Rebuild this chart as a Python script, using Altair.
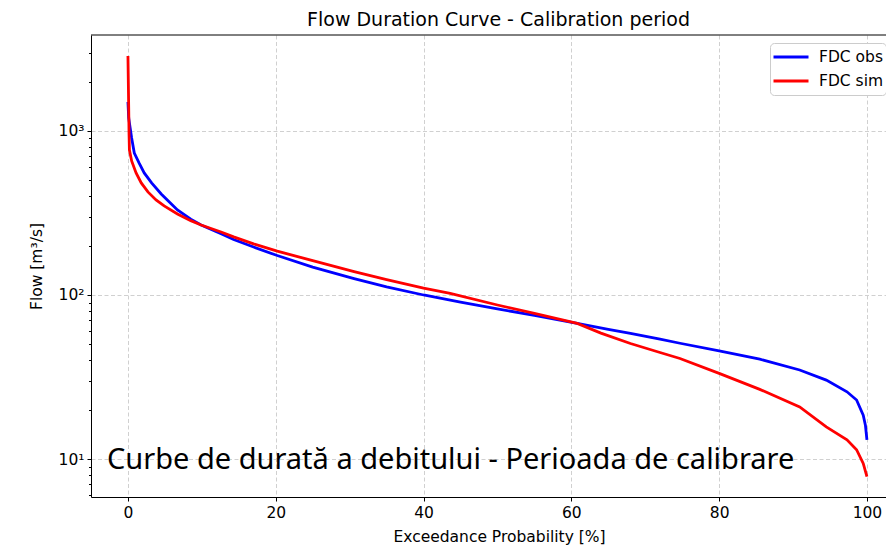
import altair as alt
import pandas as pd

# ---- data ----
obs_p = [0, 0.1, 0.3, 0.5, 0.86, 1.5, 2.2, 3.2, 4.5, 5.6, 6.7, 8.5, 9.9, 12.6, 14.3, 17.0,
         20.2, 25.0, 30.6, 35.0, 40.0, 45.0, 50.0, 55.0, 60.8, 65.0, 68.0, 72.0, 74.7, 80.0,
         85.5, 90.9, 94.5, 97.3, 98.6, 99.5, 99.8, 100]
obs_q = [1502, 1200, 1043, 906, 734, 638, 555, 482, 413, 369, 330, 290, 267, 236, 218, 196,
         174, 148, 126, 112, 100, 90.4, 82.3, 75.0, 67.1, 61.8, 58.3, 53.8, 50.8, 45.6,
         40.6, 34.9, 30.3, 25.7, 22.9, 18.5, 16.0, 13.1]

sim_p = [0, 0.1, 0.15, 0.2, 0.5, 1.1, 1.8, 2.7, 3.8, 4.9, 6.7, 8.5, 9.9, 12.6, 14.3, 17.0,
         20.2, 25.0, 30.6, 35.0, 40.0, 43.6, 50.0, 55.0, 60.8, 64.0, 68.0, 72.0, 74.7, 80.0,
         85.5, 90.9, 94.5, 97.3, 98.6, 99.5, 100]
sim_q = [2865, 1400, 950, 765, 656, 555, 482, 425, 380, 349, 312, 284, 267, 242, 226, 205,
         185, 162, 139, 124, 110, 102.4, 86.9, 77.2, 67.1, 58.6, 50.6, 44.6, 41.0, 33.3,
         26.6, 20.8, 15.7, 13.1, 11.4, 9.4, 7.8]

series_names = ["FDC obs", "FDC sim"]
series_colors = ["#0000ff", "#ff0000"]

x_ticks = [0, 20, 40, 60, 80, 100]
y_major = [10, 100, 1000]
y_minor = [6, 7, 8, 9, 20, 30, 40, 50, 60, 70, 80, 90,
           200, 300, 400, 500, 600, 700, 800, 900, 2000, 3000]

title_text = "Flow Duration Curve - Calibration period"
x_title = "Exceedance Probability [%]"
y_title = "Flow [m³/s]"
overlay_text = "Curbe de durată a debitului - Perioada de calibrare"

# ---- table ----
df = pd.concat([
    pd.DataFrame({"p": obs_p, "q": obs_q, "series": series_names[0]}),
    pd.DataFrame({"p": sim_p, "q": sim_q, "series": series_names[1]}),
], ignore_index=True)

W, H = 795, 462
FONT = "DejaVu Sans"
major_test = "datum.value == 10 || datum.value == 100 || datum.value == 1000"

lines = alt.Chart(df).mark_line(strokeWidth=2.8, clip=True).encode(
    x=alt.X("p:Q",
            scale=alt.Scale(domain=[-5, 102.58], nice=False, zero=False),
            axis=alt.Axis(values=x_ticks, title=x_title, format="d",
                          tickSize=4, labelPadding=4, titlePadding=9, titleX=408)),
    y=alt.Y("q:Q",
            scale=alt.Scale(type="log", domain=[5.87, 3845], nice=False),
            axis=alt.Axis(values=y_major + y_minor, title=y_title,
                          labelExpr="datum.value == 1000 ? '10³' : datum.value == 100 ? '10²' : datum.value == 10 ? '10¹' : ''",
                          tickSize={"condition": {"test": major_test, "value": 4}, "value": 2.5},
                          gridOpacity={"condition": {"test": major_test, "value": 1}, "value": 0},
                          labelPadding=3, titlePadding=14)),
    color=alt.Color("series:N",
                    scale=alt.Scale(domain=series_names, range=series_colors),
                    legend=alt.Legend(title=None, orient="none", legendX=679, legendY=8,
                                      symbolType="stroke", symbolSize=1225,
                                      symbolStrokeWidth=2.8, labelFont=FONT,
                                      labelFontSize=15.5, labelColor="black",
                                      fillColor="white", strokeColor="#cccccc",
                                      cornerRadius=4, padding=2, clipHeight=24,
                                      rowPadding=0, labelOffset=9)),
)

top_border = alt.Chart(pd.DataFrame({"k": [0]})).mark_rule(color="black", strokeWidth=1).encode(
    x=alt.value(0), x2=alt.value(W), y=alt.value(0)
)

overlay = alt.Chart(pd.DataFrame({"t": [overlay_text]})).mark_text(
    align="left", baseline="alphabetic", fontSize=29, font="Noto Sans", color="black"
).encode(x=alt.value(16), y=alt.value(434), text="t:N")

chart = alt.layer(lines, top_border, overlay).properties(
    width=W, height=H,
    title=alt.TitleParams(title_text, font=FONT, fontSize=19, fontWeight="normal",
                          anchor="middle", dx=10, offset=5, color="black"),
    autosize=alt.AutoSizeParams(type="none"),
    padding={"left": 83, "top": 27, "right": 0, "bottom": 48},
).configure_view(strokeWidth=0).configure_axis(
    labelFont=FONT, labelFontSize=15.5, labelColor="black",
    titleFont=FONT, titleFontSize=15.5, titleFontWeight="normal", titleColor="black",
    domainColor="black", domainWidth=1, tickColor="black", tickWidth=1,
    gridColor="#d0d0d0", gridDash=[4, 2.5], gridWidth=1,
)

chart.save("out.html", embed_options={"renderer": "svg", "actions": False})
